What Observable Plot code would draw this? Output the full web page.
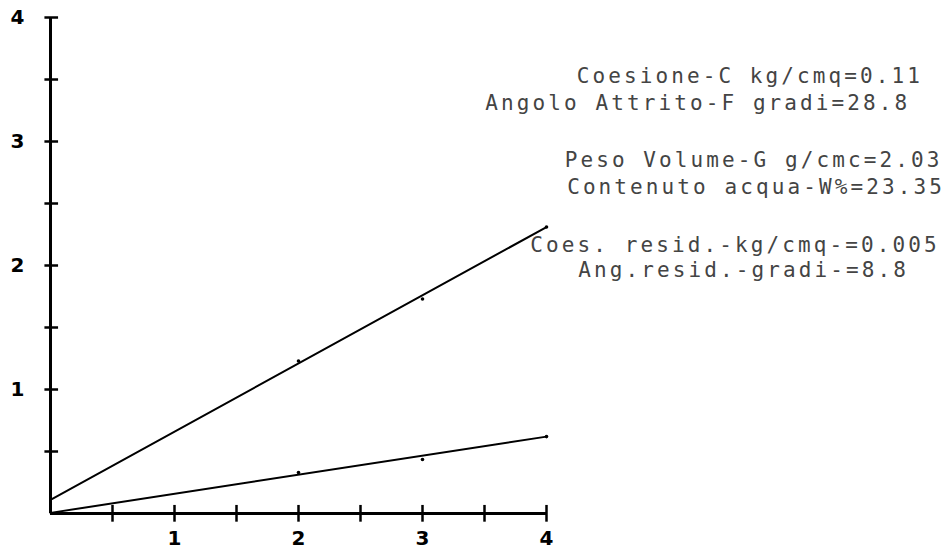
<!DOCTYPE html>
<html>
<head>
<meta charset="utf-8">
<script src="https://cdn.jsdelivr.net/npm/d3@7"></script>
<script src="https://cdn.jsdelivr.net/npm/@observablehq/plot@0.6"></script>
<style>
  html, body { margin: 0; padding: 0; background: #fff; }
</style>
</head>
<body>
<div id="chart"></div>
<script>
// ---- data ----
const tickLabels = [1, 2, 3, 4];
const minorTicks = [0.5, 1, 1.5, 2, 2.5, 3, 3.5, 4];

// peak-strength envelope (line 1) and residual envelope (line 2)
const peakLine = [{x: 0, y: 0.11}, {x: 4, y: 2.31}];
const residLine = [{x: 0, y: 0.005}, {x: 4, y: 0.62}];

// measured points
const peakPoints = [{x: 2, y: 1.23}, {x: 3, y: 1.73}, {x: 4, y: 2.31}];
const residPoints = [{x: 2, y: 0.33}, {x: 3, y: 0.435}, {x: 4, y: 0.62}];

// annotation text (placed in data units beside the plot)
const noteText = [
  "Coesione-C kg/cmq=0.11",
  "Angolo Attrito-F gradi=28.8",
  "Peso Volume-G g/cmc=2.03",
  "Contenuto acqua-W%=23.35",
  "Coes. resid.-kg/cmq-=0.005",
  "Ang.resid.-gradi-=8.8"
];
const noteX = [5.64, 5.22, 5.67, 5.69, 5.52, 5.59];
const noteY = [3.53, 3.306, 2.847, 2.629, 2.161, 1.96];
const notes = noteText.map((t, i) => ({text: t, x: noteX[i], y: noteY[i]}));

const chart = Plot.plot({
  width: 947,
  height: 550,
  marginLeft: 50,
  marginRight: 401,
  marginTop: 17,
  marginBottom: 37,
  style: {background: "#fff", fontFamily: "DejaVu Sans, sans-serif"},
  x: {domain: [0, 4]},
  y: {domain: [0, 4]},
  marks: [
    // axis lines
    Plot.ruleY([0], {x1: 0, x2: 4, stroke: "#000", strokeWidth: 3}),
    Plot.ruleX([0], {y1: 0, y2: 4, stroke: "#000", strokeWidth: 3}),
    // crossing ticks
    Plot.ruleX(minorTicks, {x: d => d, y1: -0.07, y2: 0.065, stroke: "#000", strokeWidth: 2.5}),
    Plot.ruleY(minorTicks, {y: d => d, x1: -0.045, x2: 0.065, stroke: "#000", strokeWidth: 2.5}),
    // tick labels
    Plot.axisX({ticks: tickLabels, tickSize: 0, tickPadding: 17, fontSize: 20, fontWeight: "bold", tickFormat: d => d, label: null}),
    Plot.axisY({ticks: tickLabels, tickSize: 0, tickPadding: 26, fontSize: 20, fontWeight: "bold", tickFormat: d => d, label: null}),
    // envelopes
    Plot.line(peakLine, {x: "x", y: "y", stroke: "#000", strokeWidth: 2}),
    Plot.line(residLine, {x: "x", y: "y", stroke: "#000", strokeWidth: 2}),
    // points
    Plot.dot(peakPoints, {x: "x", y: "y", r: 1.8, fill: "#000"}),
    Plot.dot(residPoints, {x: "x", y: "y", r: 1.8, fill: "#000"}),
    // annotations
    Plot.text(notes, {
      x: "x", y: "y", text: "text",
      textAnchor: "middle", fontSize: 21,
      fontFamily: "DejaVu Sans Mono, Liberation Mono, monospace",
      fill: "#444", clip: false
    })
  ]
});

chart.querySelectorAll("text").forEach(t => {
  if (t.closest("g[aria-label='text']")) t.style.letterSpacing = "3.1px";
});
document.getElementById("chart").appendChild(chart);
</script>
</body>
</html>
